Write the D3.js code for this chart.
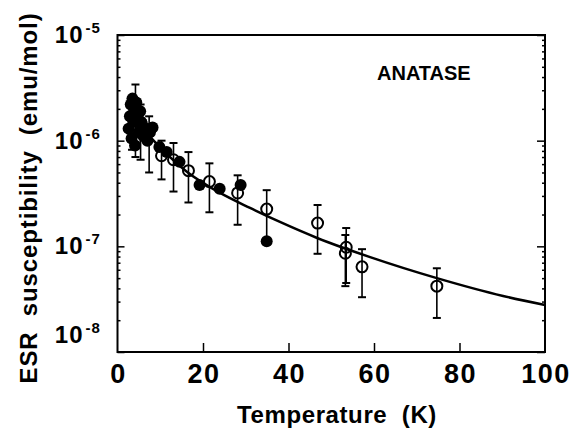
<!DOCTYPE html>
<html lang="en">
<head>
  <meta charset="utf-8">
  <title>ESR susceptibility - anatase</title>
  <script src="https://d3js.org/d3.v7.min.js"></script>
  <style>
    body { margin: 0; background: #fff; }
    #chart text {
      font-family: "Liberation Sans", Arial, Helvetica, sans-serif;
      font-weight: bold;
      fill: #000;
    }
  </style>
</head>
<body>
  <div id="chart"></div>

  <script type="text/javascript">
    "use strict"
    // open circles (with error bars): temperature, value, lower and upper end of the bar
    var openT   = [3.4, 4.2, 5.4, 7.4, 10.3, 13.1, 16.6, 21.5, 28.1, 34.9, 46.8, 53.5, 53.3, 57.2, 74.7]
    var openChi = [1.7e-6, 2.0e-6, 1.5e-6, 1.25e-6, 7.2e-7, 6.6e-7, 5.2e-7, 4.1e-7, 3.2e-7, 2.25e-7, 1.66e-7, 9.8e-8, 8.6e-8, 6.4e-8, 4.2e-8]
    var openLo  = [8.2e-7, 7.0e-7, 6.6e-7, 5.0e-7, 4.3e-7, 3.3e-7, 2.6e-7, 2.1e-7, 1.6e-7, 1.15e-7, 8.5e-8, 4.5e-8, 4.2e-8, 3.3e-8, 2.1e-8]
    var openHi  = [2.5e-6, 3.4e-6, 2.2e-6, 1.7e-6, 1.0e-6, 9.5e-7, 7.8e-7, 6.1e-7, 4.7e-7, 3.4e-7, 2.46e-7, 1.49e-7, 1.28e-7, 9.4e-8, 6.2e-8]

    // filled circles
    var filledT   = [2.6, 2.9, 3.1, 3.3, 3.5, 3.7, 3.9, 4.1, 4.4, 4.7, 5.0, 5.3, 5.7, 6.1, 6.6, 7.0, 7.6, 8.2,
                     9.8, 11.5, 14.5, 19.2, 23.9, 28.8, 34.9]
    var filledChi = [1.3e-6, 1.7e-6, 2.2e-6, 1.05e-6, 2.5e-6, 1.5e-6, 1.9e-6, 9e-7, 2.3e-6, 1.6e-6, 1.2e-6, 1.9e-6, 1.45e-6, 1.1e-6, 1.3e-6, 1.0e-6, 1.2e-6, 1.33e-6,
                     8.7e-7, 7.8e-7, 6.3e-7, 3.8e-7, 3.5e-7, 3.8e-7, 1.12e-7]

    // fitted curve
    var curveT   = [2.9, 6.4, 9.9, 16.3, 24.0, 31.0, 38.0, 46.7, 59.1, 74.7, 90.2, 100]
    var curveChi = [1.75e-6, 1.23e-6, 8.7e-7, 5.05e-7, 3.2e-7, 2.31e-7, 1.7e-7, 1.2e-7, 7.9e-8, 5.0e-8, 3.39e-8, 2.79e-8]

    var xTicks = [0, 20, 40, 60, 80, 100]
    var yTicks = [1e-5, 1e-6, 1e-7, 1e-8]
    var yTickExp = ["-5", "-6", "-7", "-8"]

    var larguraSVG = 573, alturaSVG = 428
    var margin = {top: 35, right: 28, bottom: 76, left: 117.5},
        larguraVis = larguraSVG - margin.left - margin.right,
        alturaVis = alturaSVG - margin.top - margin.bottom

    var svg = d3.select('#chart')
      .append('svg')
        .attr('width', larguraSVG)
        .attr('height', alturaSVG)
    var grafico = svg.append('g')
        .attr('transform', 'translate(' + margin.left + ',' + margin.top + ')')

    var x = d3.scaleLinear().domain([0, 100]).range([0, larguraVis])
    var y = d3.scaleLog().domain([1e-8, 1e-5]).range([alturaVis, 0])

    // minor log ticks 2..9 in each decade
    var minor = []
    yTicks.slice(1).forEach(function (d) {
      for (var k = 2; k <= 9; k++) minor.push(d * k)
    })

    function styleAxis(g) {
      g.select('.domain').remove()
      g.selectAll('line').attr('stroke', '#000').attr('stroke-width', 1.5)
      g.selectAll('text').remove()
    }

    // ticks pointing inside the frame
    grafico.append('g')
      .attr('transform', 'translate(0,' + alturaVis + ')')
      .call(d3.axisBottom(x).tickValues(xTicks.slice(1, -1)).tickSize(-9))
      .call(styleAxis)
    grafico.append('g')
      .call(d3.axisLeft(y).tickValues(yTicks).tickSize(-7))
      .call(styleAxis)
    grafico.append('g')
      .call(d3.axisLeft(y).tickValues(minor).tickSize(-3))
      .call(styleAxis)
    grafico.append('g')
      .attr('transform', 'translate(' + larguraVis + ',0)')
      .call(d3.axisRight(y).tickValues(yTicks).tickSize(-8))
      .call(styleAxis)
    grafico.append('g')
      .attr('transform', 'translate(' + larguraVis + ',0)')
      .call(d3.axisRight(y).tickValues(minor).tickSize(-3))
      .call(styleAxis)

    grafico.append('rect')
      .attr('width', larguraVis)
      .attr('height', alturaVis)
      .attr('fill', 'none')
      .attr('stroke', '#000')
      .attr('stroke-width', 2)

    // tick labels
    grafico.selectAll('.xlab')
      .data(xTicks)
      .enter().append('text')
        .attr('class', 'xlab')
        .attr('x', d => x(d) + 1)
        .attr('y', alturaVis + 31)
        .attr('text-anchor', 'middle')
        .style('font-size', '27px')
        .style('letter-spacing', '1.5px')
        .text(d => d)

    var ylab = grafico.selectAll('.ylab')
      .data(yTicks)
      .enter().append('g')
        .attr('class', 'ylab')
        .attr('transform', (d, i) => 'translate(-34,' + (y(d) + (i == yTicks.length - 1 ? -9 : 8)) + ')')
    ylab.append('text')
      .attr('text-anchor', 'end')
      .style('font-size', '24px')
      .style('letter-spacing', '1px')
      .text('10')
    ylab.append('text')
      .attr('x', 2)
      .attr('y', -10)
      .style('font-size', '15px')
      .style('letter-spacing', '1px')
      .text((d, i) => yTickExp[i])

    // fitted curve
    var linha = d3.line()
      .x((d, i) => x(curveT[i]))
      .y((d, i) => y(curveChi[i]))
      .curve(d3.curveMonotoneX)
    grafico.append('path')
      .datum(curveChi)
      .attr('d', linha)
      .attr('fill', 'none')
      .attr('stroke', '#000')
      .attr('stroke-width', 2.5)

    // error bars
    var barras = grafico.selectAll('.erro')
      .data(openT)
      .enter().append('g')
        .attr('class', 'erro')
        .attr('stroke', '#000')
    barras.append('line')
      .attr('x1', d => x(d)).attr('x2', d => x(d))
      .attr('y1', (d, i) => y(openLo[i]))
      .attr('y2', (d, i) => y(openHi[i]))
      .attr('stroke-width', 1.6)
    barras.append('line')
      .attr('x1', d => x(d) - 4).attr('x2', d => x(d) + 4)
      .attr('y1', (d, i) => y(openLo[i])).attr('y2', (d, i) => y(openLo[i]))
      .attr('stroke-width', 2)
    barras.append('line')
      .attr('x1', d => x(d) - 4).attr('x2', d => x(d) + 4)
      .attr('y1', (d, i) => y(openHi[i])).attr('y2', (d, i) => y(openHi[i]))
      .attr('stroke-width', 2)

    grafico.selectAll('.cheio')
      .data(filledT)
      .enter().append('circle')
        .attr('class', 'cheio')
        .attr('cx', d => x(d))
        .attr('cy', (d, i) => y(filledChi[i]))
        .attr('r', 6)
        .attr('fill', '#000')

    grafico.selectAll('.aberto')
      .data(openT)
      .enter().append('circle')
        .attr('class', 'aberto')
        .attr('cx', d => x(d))
        .attr('cy', (d, i) => y(openChi[i]))
        .attr('r', 5.5)
        .attr('fill', 'none')
        .attr('stroke', '#000')
        .attr('stroke-width', 2)

    // labels
    grafico.append('text')
      .attr('x', larguraVis - 168)
      .attr('y', 45)
      .style('font-size', '20px')
      .text('ANATASE')

    svg.append('text')
      .attr('transform', 'translate(37,198) rotate(-90)')
      .attr('text-anchor', 'middle')
      .style('font-size', '24px')
      .style('letter-spacing', '0.9px')
      .attr('xml:space', 'preserve')
      .text('ESR  susceptibility  (emu/mol)')

    svg.append('text')
      .attr('x', 337)
      .attr('y', 423)
      .attr('text-anchor', 'middle')
      .style('font-size', '24px')
      .style('letter-spacing', '0.6px')
      .attr('xml:space', 'preserve')
      .text('Temperature  (K)')
  </script>
</body>
</html>
